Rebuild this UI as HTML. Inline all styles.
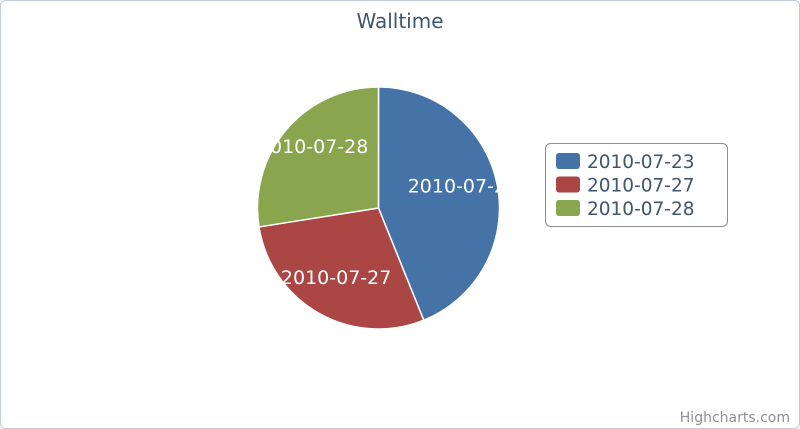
<!DOCTYPE html>
<html><head><meta charset="utf-8"><style>
html,body{margin:0;padding:0;background:#fff;}
svg{display:block;font-family:"DejaVu Sans","Liberation Sans",sans-serif;}
</style></head><body>
<svg id="chart" width="800" height="429" viewBox="0 0 800 429">
<rect x="0.5" y="0.5" width="799" height="428" rx="5" fill="#fff" stroke="#C0CCDA"/>
<text x="400" y="28" text-anchor="middle" font-size="20" fill="#3E576F">Walltime</text>
<defs><clipPath id="pc"><circle cx="378.5" cy="208" r="121"/></clipPath></defs>
<g id="slices"></g>
<g id="labels" clip-path="url(#pc)"></g>
<g>
<rect x="545.5" y="143.5" width="182" height="83" rx="5" fill="#fff" stroke="#909090"/>
<g id="legend-items"></g>
</g>
<text x="790" y="422" text-anchor="end" font-size="14" fill="#909090">Highcharts.com</text>
</svg>
<script>
const categories = ["2010-07-23","2010-07-27","2010-07-28"];
const values = [43.9, 28.6, 27.5];
const colors = ["#4572A7","#AA4643","#89A54E"];
const NS="http://www.w3.org/2000/svg";
const cx=378.5, cy=208, r=121;
const total=values.reduce((a,b)=>a+b,0);
function pt(a,rad){return [cx+rad*Math.sin(a), cy-rad*Math.cos(a)];}
let start=0;
const sg=document.getElementById('slices'), lg=document.getElementById('labels'), leg=document.getElementById('legend-items');
values.forEach((v,i)=>{
  const ang=v/total*2*Math.PI, end=start+ang;
  const p1=pt(start,r), p2=pt(end,r);
  const path=document.createElementNS(NS,'path');
  path.setAttribute('d',`M${cx},${cy} L${p1[0]},${p1[1]} A${r},${r} 0 ${ang>Math.PI?1:0} 1 ${p2[0]},${p2[1]} Z`);
  path.setAttribute('fill',colors[i]);path.setAttribute('stroke','#fff');path.setAttribute('stroke-width','1.5');
  
  
  sg.appendChild(path);
  const mid=start+ang/2, lp=pt(mid,86);
  const t=document.createElementNS(NS,'text');
  t.setAttribute('x',lp[0]);t.setAttribute('y',lp[1]+1);t.setAttribute('text-anchor','middle');
  t.setAttribute('font-size','19');t.setAttribute('fill','#fff');
  t.textContent=categories[i];
  
  
  lg.appendChild(t);
  const g=document.createElementNS(NS,'g');
  
  
  const y=153+i*23.5;
  const sq=document.createElementNS(NS,'rect');
  sq.setAttribute('x',556);sq.setAttribute('y',y);sq.setAttribute('width',24);sq.setAttribute('height',16);sq.setAttribute('rx',3);sq.setAttribute('fill',colors[i]);
  g.appendChild(sq);
  const lt=document.createElementNS(NS,'text');
  lt.setAttribute('x',587);lt.setAttribute('y',y+15);lt.setAttribute('font-size','18.5');lt.setAttribute('fill','#3E576F');
  lt.textContent=categories[i];
  g.appendChild(lt);
  leg.appendChild(g);
  start=end;
});
</script>
</body></html>
